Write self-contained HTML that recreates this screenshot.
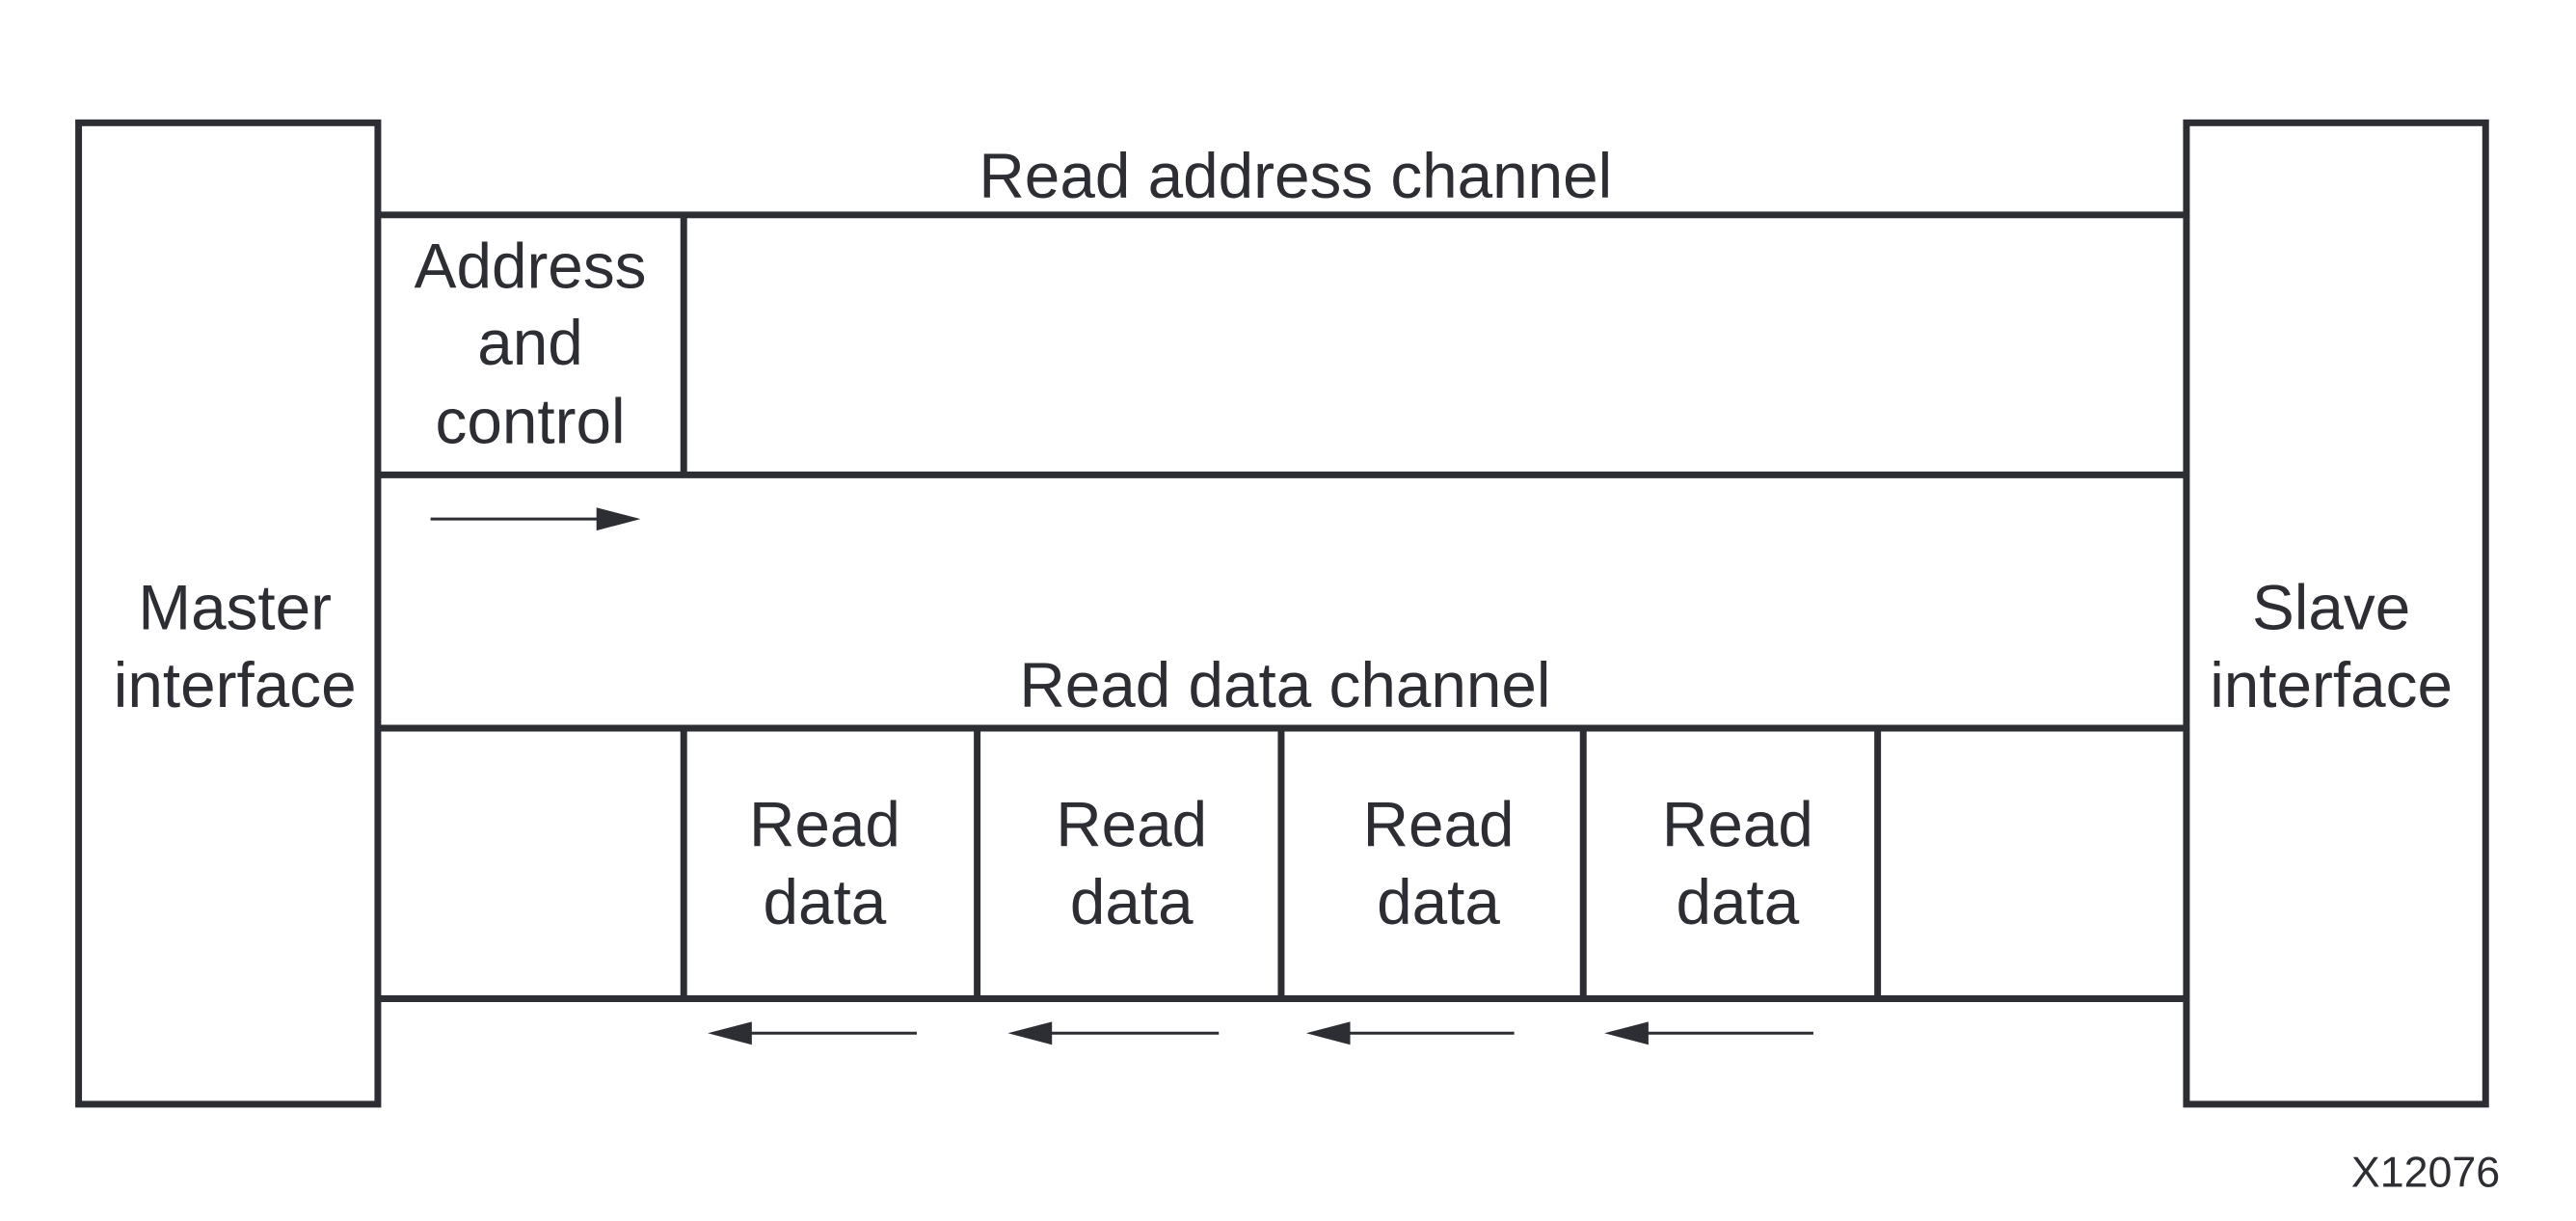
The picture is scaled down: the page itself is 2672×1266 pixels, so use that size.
<!DOCTYPE html>
<html><head><style>html,body{margin:0;padding:0;background:#fff}svg{display:block}</style></head>
<body>
<svg width="2672" height="1266" viewBox="0 0 2672 1266" xmlns="http://www.w3.org/2000/svg">
<g transform="scale(0.9947)">
<g fill="none" stroke="#2c2e33" stroke-width="7">
<rect x="82" y="128" width="312" height="1023"/>
<rect x="2280" y="128" width="312" height="1023"/>
<line x1="394" y1="224" x2="2280" y2="224"/>
<line x1="394" y1="495" x2="2280" y2="495"/>
<line x1="713" y1="224" x2="713" y2="495"/>
<line x1="394" y1="759" x2="2280" y2="759"/>
<line x1="394" y1="1041" x2="2280" y2="1041"/>
<line x1="713" y1="759" x2="713" y2="1041"/>
<line x1="1019" y1="759" x2="1019" y2="1041"/>
<line x1="1336" y1="759" x2="1336" y2="1041"/>
<line x1="1651" y1="759" x2="1651" y2="1041"/>
<line x1="1958" y1="759" x2="1958" y2="1041"/>
</g>
<g stroke="#2c2e33" stroke-width="3">
<line x1="449" y1="541" x2="630" y2="541"/>
<line x1="780" y1="1077" x2="956" y2="1077"/>
<line x1="1093" y1="1077" x2="1271" y2="1077"/>
<line x1="1404" y1="1077" x2="1579" y2="1077"/>
<line x1="1715" y1="1077" x2="1891" y2="1077"/>
</g>
<g fill="#2c2e33">
<polygon points="622,529 668,541 622,553"/>
<polygon points="784,1065 738,1077 784,1089"/>
<polygon points="1097,1065 1051,1077 1097,1089"/>
<polygon points="1408,1065 1362,1077 1408,1089"/>
<polygon points="1719,1065 1673,1077 1719,1089"/>
</g>
<g fill="#2c2e33" font-family="Liberation Sans, Arial, sans-serif" font-size="66" text-anchor="middle">
<text x="1351" y="206">Read address channel</text>
<text x="1340" y="737">Read data channel</text>
<text x="553" y="300">Address</text>
<text x="553" y="380">and</text>
<text x="553" y="462">control</text>
<text x="245" y="656">Master</text>
<text x="245" y="737">interface</text>
<text x="2431" y="656">Slave</text>
<text x="2431" y="737">interface</text>
<text x="860" y="882">Read</text><text x="860" y="963">data</text>
<text x="1180" y="882">Read</text><text x="1180" y="963">data</text>
<text x="1500" y="882">Read</text><text x="1500" y="963">data</text>
<text x="1812" y="882">Read</text><text x="1812" y="963">data</text>
<text x="2607" y="1237" font-size="45" text-anchor="end">X12076</text>
</g>
</g>
</svg>
</body></html>
